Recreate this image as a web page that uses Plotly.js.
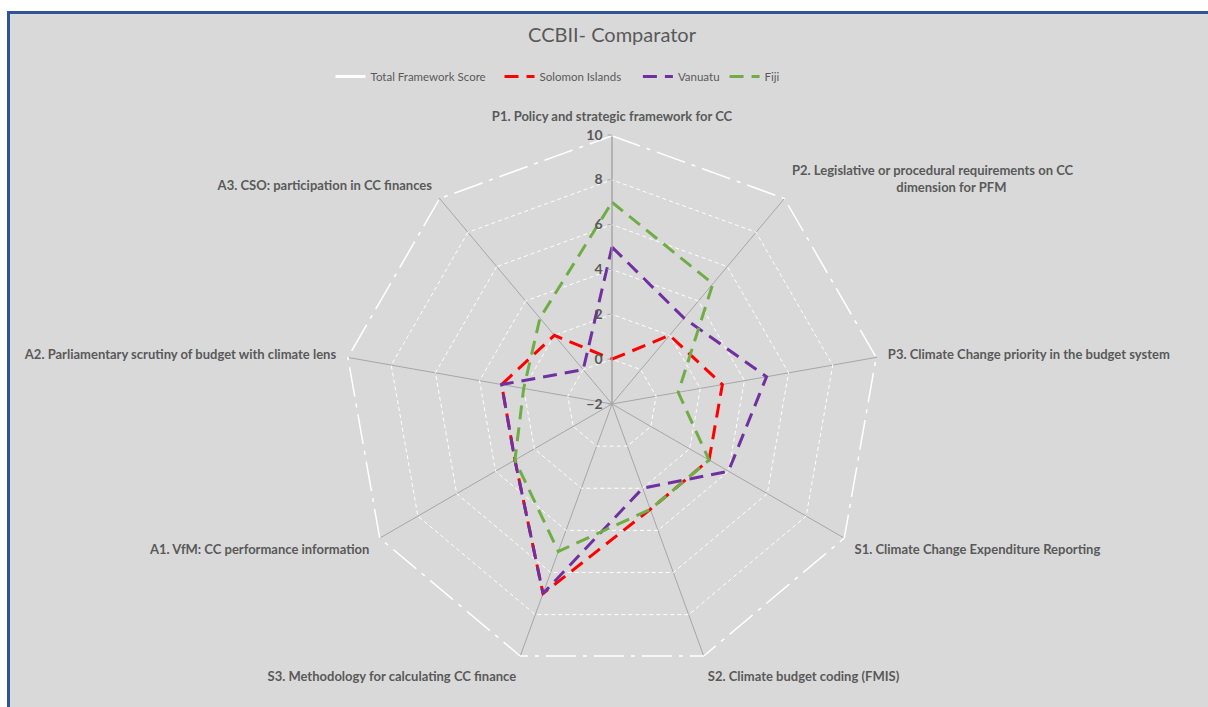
<!DOCTYPE html>
<html>
<head>
<meta charset="utf-8">
<script src="https://cdn.plot.ly/plotly-3.0.1.min.js"></script>
<style>
  html, body { margin:0; padding:0; overflow:hidden; background:#ffffff; width:1208px; height:707px; }
  #frame { position:absolute; left:7px; top:11px; width:1230px; height:730px; border:3px solid #2f5597; background:#d9d9d9; }
  #chart { position:absolute; left:0; top:0; width:1208px; height:707px; }
</style>
</head>
<body>
<div id="frame"></div>
<div id="chart"></div>
<script>
const categories = [
  "P1. Policy and strategic framework for CC",
  "P2. Legislative or procedural requirements on CC<br>" + "\u00a0".repeat(33) + "dimension for PFM",
  "P3. Climate Change priority in the budget system",
  "S1. Climate Change Expenditure Reporting",
  "S2. Climate budget coding (FMIS)",
  "S3. Methodology for calculating CC finance",
  "A1. VfM: CC performance information",
  "A2. Parliamentary scrutiny of budget with climate lens",
  "A3. CSO: participation in CC finances"
];
const seriesNames = ["Total Framework Score", "Solomon Islands", "Vanuatu", "Fiji"];
const totalFramework = [10, 10, 10, 10, 10, 10, 10, 10, 10];
const solomonIslands = [0, 2, 3, 3, 3, 7, 3, 3, 2];
const vanuatu        = [5, 3, 5, 4, 2, 7, 3, 3, 0];
const fiji           = [7, 5, 1, 3, 3, 5, 3, 2, 3];
const radialTicks = [-2, 0, 2, 4, 6, 8, 10];

function closed(arr) { return arr.concat([arr[0]]); }
const theta = closed(categories);

function series(name, padCount, vals, color, dash) {
  return {
    type: 'scatterpolar', mode: 'lines', name: name + '\u00a0'.repeat(padCount),
    r: closed(vals), theta: theta,
    line: { color: color, width: 3, dash: dash },
    hoverinfo: 'skip'
  };
}

const data = [
  series(seriesNames[0], 3, totalFramework, '#ffffff', '30px,7px,4px,7px'),
  series(seriesNames[1], 4, solomonIslands, '#ff0000', '14px,8px'),
  series(seriesNames[2], 0, vanuatu, '#7030a0', '14px,8px'),
  series(seriesNames[3], 0, fiji, '#70ad47', '14px,8px')
];

const layout = {
  width: 1208, height: 707,
  paper_bgcolor: 'rgba(0,0,0,0)',
  plot_bgcolor: 'rgba(0,0,0,0)',
  margin: { l: 96, r: 80, t: 135, b: 34 },
  font: { family: 'Lato, "Liberation Sans", sans-serif', color: '#595959' },
  title: {
    text: 'CCBII- Comparator',
    font: { family: 'Lato, sans-serif', size: 20, color: '#595959' },
    x: 612/1208, xref: 'container', xanchor: 'center',
    y: 1 - 35/707, yref: 'container', yanchor: 'middle'
  },
  showlegend: true,
  legend: {
    orientation: 'h',
    x: 558/1208, xref: 'container', xanchor: 'center',
    y: 1 - 62/707, yref: 'container', yanchor: 'top',
    font: { family: 'Lato, sans-serif', size: 11.5, color: '#595959' },
    bgcolor: 'rgba(0,0,0,0)'
  },
  polar: {
    bgcolor: 'rgba(0,0,0,0)',
    gridshape: 'linear',
    domain: { x: [0, 1], y: [0, 1] },
    angularaxis: {
      rotation: 90, direction: 'clockwise',
      showline: false,
      gridcolor: '#a6a6a6', gridwidth: 1,
      ticks: 'outside', ticklen: 8, tickcolor: 'rgba(0,0,0,0)',
      tickfont: { family: 'Lato, sans-serif', size: 13, color: '#595959', weight: 'bold' }
    },
    radialaxis: {
      range: [-2, 10], angle: 90, tickangle: 90,
      tickvals: radialTicks,
      side: 'counterclockwise',
      showline: true, linecolor: '#a6a6a6', linewidth: 1,
      ticks: 'outside', ticklen: 4, tickcolor: '#a6a6a6',
      gridcolor: '#ffffff', gridwidth: 1, griddash: '4px,3px',
      tickfont: { family: 'Lato, sans-serif', size: 14, color: '#595959', weight: 'bold' }
    }
  }
};

Plotly.newPlot('chart', data, layout, { displayModeBar: false, staticPlot: true });
</script>
</body>
</html>
